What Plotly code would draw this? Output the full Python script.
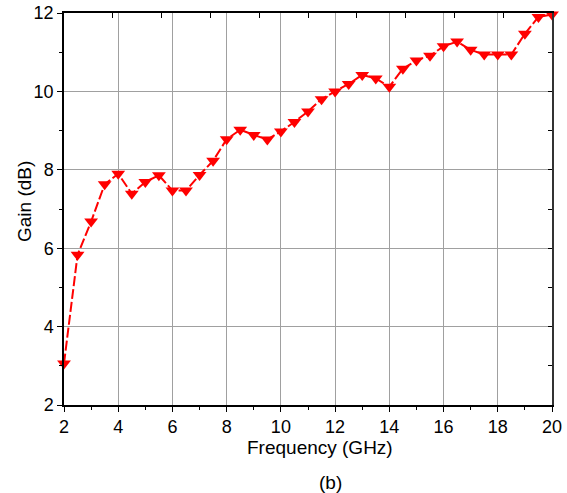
import plotly.graph_objects as go

freq = [2, 2.5, 3, 3.5, 4, 4.5, 5, 5.5, 6, 6.5, 7, 7.5, 8, 8.5, 9, 9.5, 10,
        10.5, 11, 11.5, 12, 12.5, 13, 13.5, 14, 14.5, 15, 15.5, 16, 16.5,
        17, 17.5, 18, 18.5, 19, 19.5, 20]
gain = [3.06, 5.83, 6.68, 7.63, 7.90, 7.39, 7.69, 7.86, 7.47, 7.47, 7.87,
        8.23, 8.78, 9.02, 8.89, 8.77, 8.98, 9.22, 9.49, 9.80, 10.0, 10.19,
        10.42, 10.33, 10.12, 10.58, 10.79, 10.91, 11.15, 11.27, 11.06, 10.94,
        10.94, 10.94, 11.47, 11.90, 11.96]

x_ticks = [2, 4, 6, 8, 10, 12, 14, 16, 18, 20]
y_ticks = [2, 4, 6, 8, 10, 12]
top_ticks = [2, 3.8, 5.6, 7.4, 9.2, 11, 12.8, 14.6, 16.4, 18.2, 20]
right_ticks = [2, 3, 4, 5, 6, 7, 8, 9, 10, 11, 12]

x_title = "Frequency (GHz)"
y_title = "Gain (dB)"
panel_label = "(b)"

FONT = "Liberation Sans, Arial, sans-serif"

fig = go.Figure()
# invisible copy bound to the mirror axes so that they are drawn
fig.add_trace(go.Scatter(
    x=freq, y=gain, xaxis="x2", yaxis="y2", mode="lines",
    line=dict(color="rgba(0,0,0,0)", width=0), hoverinfo="skip",
    showlegend=False,
))
fig.add_trace(go.Scatter(
    x=freq, y=gain, mode="lines+markers",
    line=dict(color="#ff0000", width=2, dash="10px,3px"),
    marker=dict(symbol="triangle-down", size=12, color="#ff0000",
                line=dict(width=0)),
    showlegend=False, cliponaxis=False,
))

fig.update_layout(
    width=567, height=493,
    margin=dict(l=64, r=15, t=13, b=88),
    paper_bgcolor="white", plot_bgcolor="white",
    font=dict(family=FONT, size=18, color="black"),
    xaxis=dict(
        range=[2, 20], tickvals=x_ticks, ticks="outside", ticklen=5,
        tickwidth=1.2, tickcolor="black", automargin=False,
        minor=dict(dtick=1, tick0=0, ticks="outside", ticklen=3,
                   tickcolor="black", showgrid=False),
        showline=True, linecolor="black", linewidth=1.5,
        showgrid=True, gridcolor="#a0a0a0", gridwidth=1,
        zeroline=False, tickfont=dict(size=18), ticklabelstandoff=0,
    ),
    yaxis=dict(
        range=[2, 12], tickvals=y_ticks, ticks="outside", ticklen=5,
        tickwidth=1.2, tickcolor="black", automargin=False,
        minor=dict(dtick=1, tick0=0, ticks="outside", ticklen=3,
                   tickcolor="black", showgrid=False),
        showline=True, linecolor="black", linewidth=1.5,
        showgrid=True, gridcolor="#a0a0a0", gridwidth=1,
        zeroline=False, tickfont=dict(size=18),
    ),
    xaxis2=dict(
        overlaying="x", side="top", range=[2, 20], tickvals=top_ticks,
        ticks="inside", ticklen=5, tickcolor="black", showticklabels=False,
        showline=True, linecolor="black", linewidth=1.5, showgrid=False,
        zeroline=False, automargin=False,
    ),
    yaxis2=dict(
        overlaying="y", side="right", range=[2, 12], tickvals=right_ticks,
        ticks="inside", ticklen=4, tickcolor="black", showticklabels=False,
        showline=True, linecolor="#333333", linewidth=2, showgrid=False,
        zeroline=False, automargin=False,
    ),
)
plot_h = 493 - 13 - 88
plot_w = 567 - 64 - 15


def px_x(p):
    return (p - 64) / plot_w


def px_y(p):
    return (405 - p) / plot_h


fig.add_annotation(
    text=x_title, x=px_x(320), y=px_y(447),
    xref="paper", yref="paper", xanchor="center", yanchor="middle",
    showarrow=False, font=dict(size=19), borderpad=0,
)
fig.add_annotation(
    text=y_title, x=px_x(25), y=px_y(202), textangle=-90,
    xref="paper", yref="paper", xanchor="center", yanchor="middle",
    showarrow=False, font=dict(size=19), borderpad=0,
)
fig.add_annotation(
    text=panel_label, x=px_x(330), y=px_y(482),
    xref="paper", yref="paper", xanchor="center", yanchor="middle",
    showarrow=False, font=dict(size=19), borderpad=0,
)

fig.write_html("out.html")
